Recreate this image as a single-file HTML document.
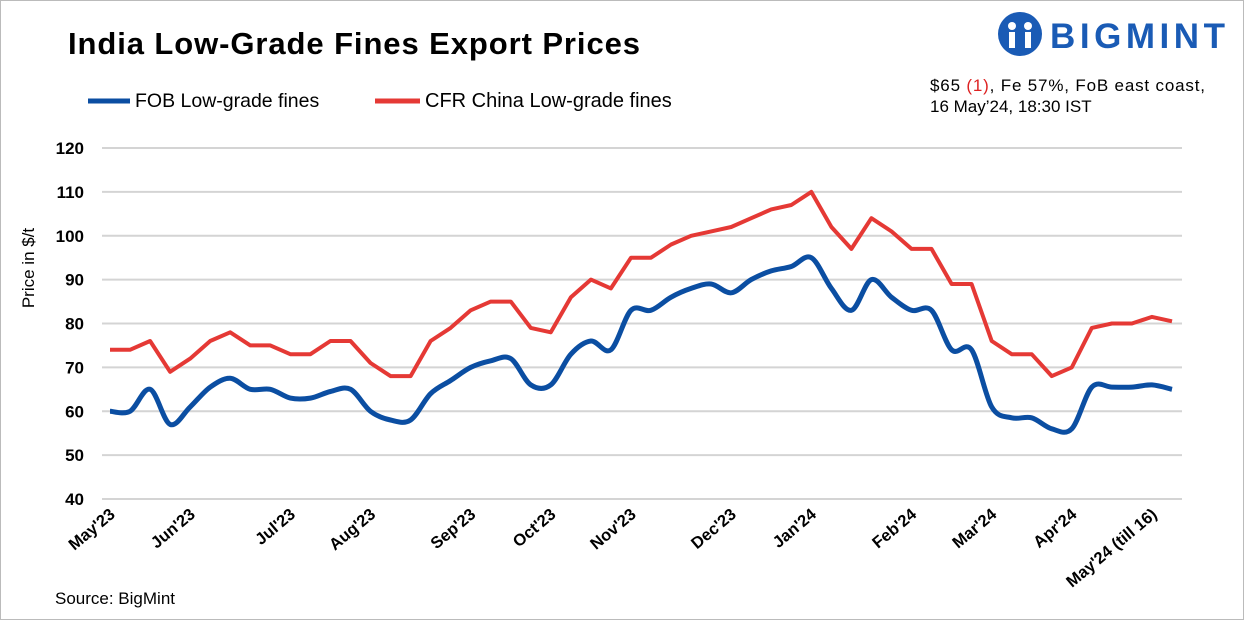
<!DOCTYPE html>
<html><head><meta charset="utf-8"><style>
body{margin:0;width:1244px;height:620px;background:#fff;overflow:hidden;font-family:"Liberation Sans",sans-serif}
#frame{position:absolute;left:0;top:0;width:1242px;height:618px;border:1px solid #bbb}
</style></head><body>
<div id="frame"></div>
<svg id="chart" width="1244" height="620" style="position:absolute;left:0;top:0">
<text x="68" y="54" font-size="31" font-weight="bold" fill="#000" textLength="572">India Low-Grade Fines Export Prices</text>
<g>
<circle cx="1020" cy="34" r="22" fill="#1a5bb5"/>
<circle cx="1012" cy="26" r="4" fill="#fff"/><circle cx="1028" cy="26" r="4" fill="#fff"/>
<rect x="1009" y="32" width="6" height="16" fill="#fff"/><rect x="1025" y="32" width="6" height="16" fill="#fff"/>
<text x="1050" y="48" font-size="35" font-weight="bold" fill="#1a5bb5" textLength="175">BIGMINT</text>
</g>
<text x="930" y="91" font-size="17" fill="#000" textLength="275">$65 <tspan fill="#d22">(1)</tspan>, Fe 57%, FoB east coast,</text>
<text x="930" y="112" font-size="17" fill="#000">16 May’24, 18:30 IST</text>
<g><line x1="88" y1="101" x2="130" y2="101" stroke="#0b4ea2" stroke-width="5"/><text x="135" y="107" font-size="19.5">FOB Low-grade fines</text></g>
<g><line x1="375" y1="101" x2="420" y2="101" stroke="#e53935" stroke-width="5"/><text x="425" y="107" font-size="20">CFR China Low-grade fines</text></g>
<text transform="translate(34,268) rotate(-90)" text-anchor="middle" font-size="17">Price in $/t</text>
<text x="55" y="604" font-size="17">Source: BigMint</text>
<g id="grid"></g><g id="yt"></g><g id="xt"></g><g id="series"></g>
</svg>
<script>
const categories=["May'23","Jun'23","Jul'23","Aug'23","Sep'23","Oct'23","Nov'23","Dec'23","Jan'24","Feb'24","Mar'24","Apr'24","May'24 (till 16)"];
const categoryIndex=[0,4,9,13,18,22,26,31,35,40,44,48,52];
const yTicks=[40,50,60,70,80,90,100,110,120];
const fob=[60,60,65,57,61,65.5,67.5,65,65,63,63,64.5,65,60,58,58,64,67,70,71.5,72,66,66,73,76,74,83,83,86,88,89,87,90,92,93,95,88,83,90,86,83,83,74,74,61,58.5,58.5,56,56,65.5,65.5,65.5,66,65];
const cfr=[74,74,76,69,72,76,78,75,75,73,73,76,76,71,68,68,76,79,83,85,85,79,78,86,90,88,95,95,98,100,101,102,104,106,107,110,102,97,104,101,97,97,89,89,76,73,73,68,70,79,80,80,81.5,80.5];
const NS="http://www.w3.org/2000/svg";
const x0=110,x1=1172,yTop=148,yBot=499;
function xs(i){return x0+(x1-x0)*i/(fob.length-1);}
function ys(v){return yBot-(v-40)/80*(yBot-yTop);}
function mk(t,a,p){const e=document.createElementNS(NS,t);for(const k in a)e.setAttribute(k,a[k]);document.getElementById(p).appendChild(e);return e;}
yTicks.forEach(v=>{
 const l=mk('line',{x1:102,x2:1182,y1:ys(v),y2:ys(v),stroke:'#d4d4d4','stroke-width':2},'grid');
 
 
 const t=mk('text',{x:84,y:ys(v)+6,'text-anchor':'end','font-size':17,'font-weight':'bold'},'yt');
 t.textContent=v;
 
 
});
categories.forEach((c,k)=>{
 const x=xs(categoryIndex[k])+6;
 const t=mk('text',{transform:`translate(${x},516) rotate(-40)`,'text-anchor':'end','font-size':16.5,'font-weight':'bold'},'xt');
 t.textContent=c;
 
 
});
let d='';cfr.forEach((v,i)=>{d+=(i?'L':'M')+xs(i).toFixed(1)+','+ys(v).toFixed(1);});
const r=mk('path',{d:d,fill:'none',stroke:'#e53935','stroke-width':4,'stroke-linejoin':'round'},'series');


const P=fob.map((v,i)=>[xs(i),ys(v)]);
let s='M'+P[0][0]+','+P[0][1];
for(let i=0;i<P.length-1;i++){
 const p0=P[Math.max(0,i-1)],p1=P[i],p2=P[i+1],p3=P[Math.min(P.length-1,i+2)];
 const c1=[p1[0]+(p2[0]-p0[0])/6,p1[1]+(p2[1]-p0[1])/6],c2=[p2[0]-(p3[0]-p1[0])/6,p2[1]-(p3[1]-p1[1])/6];
 s+=`C${c1[0].toFixed(1)},${c1[1].toFixed(1)} ${c2[0].toFixed(1)},${c2[1].toFixed(1)} ${p2[0].toFixed(1)},${p2[1].toFixed(1)}`;
}
const b=mk('path',{d:s,fill:'none',stroke:'#0b4ea2','stroke-width':5,'stroke-linejoin':'round'},'series');


</script>
</body></html>
